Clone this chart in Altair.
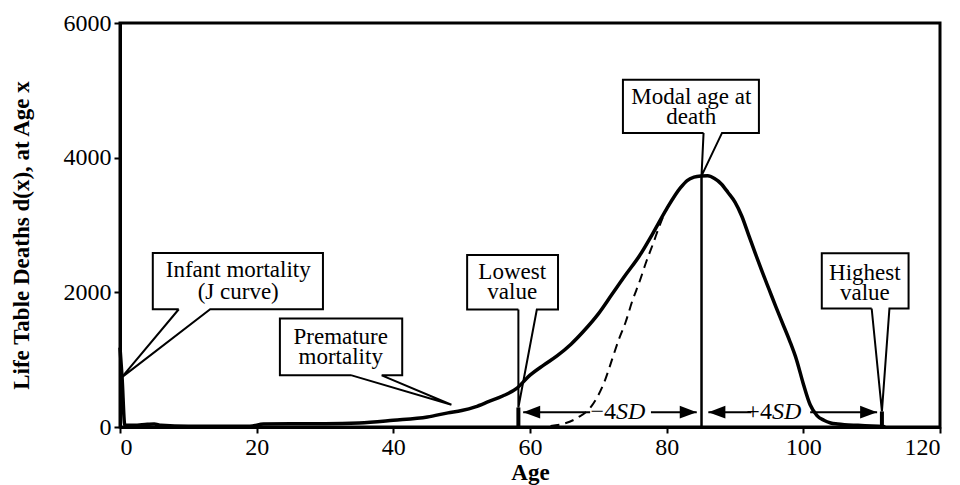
import altair as alt
import pandas as pd

# ---------------- data ----------------
solid_age = [0, 0.3, 0.7, 2, 4, 5, 6, 10, 15, 19, 21, 25, 30, 35, 40, 45, 48, 50, 52, 54, 56, 58,
             60, 62, 64, 66, 68, 70, 72, 74, 76, 78, 80, 82, 83, 84, 85, 86, 87, 88, 89, 90, 91, 92,
             93, 94, 95, 96, 97, 98, 99, 100, 101, 102, 103, 104, 105, 106, 108, 110, 112]
solid_dx = [1180, 740, 30, 25, 40, 45, 25, 10, 10, 10, 45, 50, 50, 60, 100, 150, 210, 245, 300, 380, 460, 570,
            770, 920, 1060, 1230, 1440, 1680, 1970, 2260, 2540, 2880, 3240, 3550, 3660, 3710, 3727, 3730, 3690, 3610,
            3480, 3340, 3130, 2850, 2570, 2300, 2040, 1780, 1530, 1280, 1000, 640, 330, 170, 100, 60, 45, 35, 25, 15, 5]

dash_age = [63, 65, 67, 69, 71, 72, 73, 74, 75, 76, 77, 78, 79, 80, 81]
dash_dx = [15, 50, 140, 310, 700, 1000, 1300, 1560, 1880, 2150, 2450, 2720, 3000, 3240, 3390]

modal_age = 85.1
modal_dx = 3729
lowest_age = 58.3
lowest_top = 290
highest_age = 111.5
highest_top = 231

# callouts: box edges, pointer base points, target point, text
co_name = ["infant", "premature", "lowest", "modal", "highest"]
co_x0 = [4.8, 23.4, 50.8, 73.6, 102.7]
co_x1 = [29.7, 41.3, 64.1, 93.5, 115.4]
co_yb = [1749, 767, 1745, 4368, 1760]
co_yt = [2583, 1611, 2553, 5159, 2579]
co_pa = [8.6, 33.9, 58.3, 85.4, 110.0]
co_pb = [13.2, 38.3, 61.0, 88.1, 112.6]
co_tx = [0.25, 48.5, 58.3, 85.1, 111.5]
co_ty = [737, 330, 290, 3729, 231]
co_text_x = [17.3, 32.3, 57.4, 83.6, 109.0]
co_line1 = ["Infant mortality", "Premature", "Lowest", "Modal age at", "Highest"]
co_line2 = ["(J curve)", "mortality", "value", "death", "value"]
co_line1_y = [2330, 1337, 2305, 4906, 2285]
co_line2_y = [2002, 1039, 2007, 4608, 1988]

# SD arrows
sd_y = 220
sd_tip_left = [59.0, 86.1]
sd_tip_right = [84.4, 110.8]
sd_seg1_end = [68.8, 92.4]
sd_seg2_start = [77.7, 101.0]
sd_join = [72.6, 95.4]
sd_prefix = ["\u22124", "+4"]

x_ticks = [0, 20, 40, 60, 80, 100, 120]
y_ticks = [0, 2000, 4000, 6000]

FONT = "Liberation Serif"

# ---------------- tables ----------------
solid_df = pd.DataFrame({"age": solid_age, "dx": solid_dx})
dash_df = pd.DataFrame({"age": dash_age, "dx": dash_dx})

poly_rows = []
for i, n in enumerate(co_name):
    pts = [
        (co_pa[i], co_yb[i]), (co_x0[i], co_yb[i]), (co_x0[i], co_yt[i]),
        (co_x1[i], co_yt[i]), (co_x1[i], co_yb[i]), (co_pb[i], co_yb[i]),
        (co_tx[i], co_ty[i]), (co_pa[i], co_yb[i]),
    ]
    for k, (a, b) in enumerate(pts):
        poly_rows.append({"name": n, "k": k, "age": a, "dx": b})
poly_df = pd.DataFrame(poly_rows)

text_rows = []
for i in range(len(co_name)):
    text_rows.append({"age": co_text_x[i], "dx": co_line1_y[i], "t": co_line1[i]})
    text_rows.append({"age": co_text_x[i], "dx": co_line2_y[i], "t": co_line2[i]})
text_df = pd.DataFrame(text_rows)

rules_df = pd.DataFrame({
    "age": [modal_age, lowest_age, highest_age],
    "y0": [0, 0, 0],
    "y1": [modal_dx, lowest_top, highest_top],
    "w": ["thin", "thick", "thick"],
})

seg_rows = []
for i in range(2):
    seg_rows.append({"a0": sd_tip_left[i], "a1": sd_seg1_end[i], "dx": sd_y})
    seg_rows.append({"a0": sd_seg2_start[i], "a1": sd_tip_right[i], "dx": sd_y})
seg_df = pd.DataFrame(seg_rows)

LEFT_HEAD = "M 0 0 L 2 -0.75 L 2 0.75 Z"
RIGHT_HEAD = "M 0 0 L -2 -0.75 L -2 0.75 Z"
head_rows = []
for i in range(2):
    head_rows.append({"age": sd_tip_left[i], "dx": sd_y, "shape": LEFT_HEAD})
    head_rows.append({"age": sd_tip_right[i], "dx": sd_y, "shape": RIGHT_HEAD})
head_df = pd.DataFrame(head_rows)

sd_df = pd.DataFrame({"age": sd_join, "dx": [sd_y] * 2, "pre": sd_prefix, "sd": ["SD"] * 2})

# ---------------- scales ----------------
xs = alt.Scale(domain=[0, 120], nice=False, zero=False)
ys = alt.Scale(domain=[0, 6000], nice=False)

x_axis = alt.Axis(values=x_ticks, title="Age", grid=False, tickSize=6, labelPadding=2, format="d",
                  titleY=45, titleBaseline="middle")
y_axis = alt.Axis(values=y_ticks, title="Life Table Deaths d(x), at Age x", grid=False, format="d",
                  tickSize=6, labelPadding=3, titleX=-99, titleY=212, titleAngle=270,
                  titleBaseline="middle", titleAlign="center")

base_x = alt.X("age:Q", scale=xs, axis=x_axis)
base_y = alt.Y("dx:Q", scale=ys, axis=y_axis)

solid = alt.Chart(solid_df).mark_line(color="black", strokeWidth=3.5, interpolate="monotone",
                                      strokeJoin="round").encode(x=base_x, y=base_y)

dashed = alt.Chart(dash_df).mark_line(color="black", strokeWidth=2, strokeDash=[9, 6],
                                      interpolate="monotone").encode(
    x=alt.X("age:Q", scale=xs), y=alt.Y("dx:Q", scale=ys))

modal_rule = alt.Chart(rules_df[rules_df.w == "thin"]).mark_rule(color="black", strokeWidth=2.5).encode(
    x=alt.X("age:Q", scale=xs), y=alt.Y("y0:Q", scale=ys), y2="y1:Q")
bars = alt.Chart(rules_df[rules_df.w == "thick"]).mark_rule(color="black", strokeWidth=4).encode(
    x=alt.X("age:Q", scale=xs), y=alt.Y("y0:Q", scale=ys), y2="y1:Q")

callouts = alt.Chart(poly_df).mark_line(color="black", strokeWidth=2, strokeJoin="miter").encode(
    x=alt.X("age:Q", scale=xs), y=alt.Y("dx:Q", scale=ys), detail="name:N", order="k:Q")

texts = alt.Chart(text_df).mark_text(font=FONT, fontSize=23, color="black", baseline="middle",
                                     align="center").encode(
    x=alt.X("age:Q", scale=xs), y=alt.Y("dx:Q", scale=ys), text="t:N")

segs = alt.Chart(seg_df).mark_rule(color="black", strokeWidth=2).encode(
    x=alt.X("a0:Q", scale=xs), x2="a1:Q", y=alt.Y("dx:Q", scale=ys))

heads = alt.Chart(head_df).mark_point(filled=True, color="black", size=289, opacity=1,
                                      strokeWidth=0).encode(
    x=alt.X("age:Q", scale=xs), y=alt.Y("dx:Q", scale=ys),
    shape=alt.Shape("shape:N", scale=None, legend=None))

sd_pre = alt.Chart(sd_df).mark_text(font=FONT, fontSize=24, color="black", baseline="middle",
                                    align="right").encode(
    x=alt.X("age:Q", scale=xs), y=alt.Y("dx:Q", scale=ys), text="pre:N")
sd_it = alt.Chart(sd_df).mark_text(font=FONT, fontSize=24, color="black", baseline="middle",
                                   align="left", fontStyle="italic").encode(
    x=alt.X("age:Q", scale=xs), y=alt.Y("dx:Q", scale=ys), text="sd:N")

chart = alt.layer(
    solid, dashed, modal_rule, bars, callouts, texts, segs, heads, sd_pre, sd_it
).properties(
    width=820, height=404,
    autosize=alt.AutoSizeParams(type="none"),
    padding={"left": 112, "top": 15, "right": 12, "bottom": 60},
).configure_view(
    stroke="black", strokeWidth=3
).configure_axis(
    domainColor="black", domainWidth=3, tickColor="black", tickWidth=2,
    labelFont=FONT, labelFontSize=24, labelColor="black",
    titleFont=FONT, titleFontSize=23, titleFontWeight="bold", titleColor="black",
)

chart.save("out.html", embed_options={"renderer": "svg", "actions": False})
